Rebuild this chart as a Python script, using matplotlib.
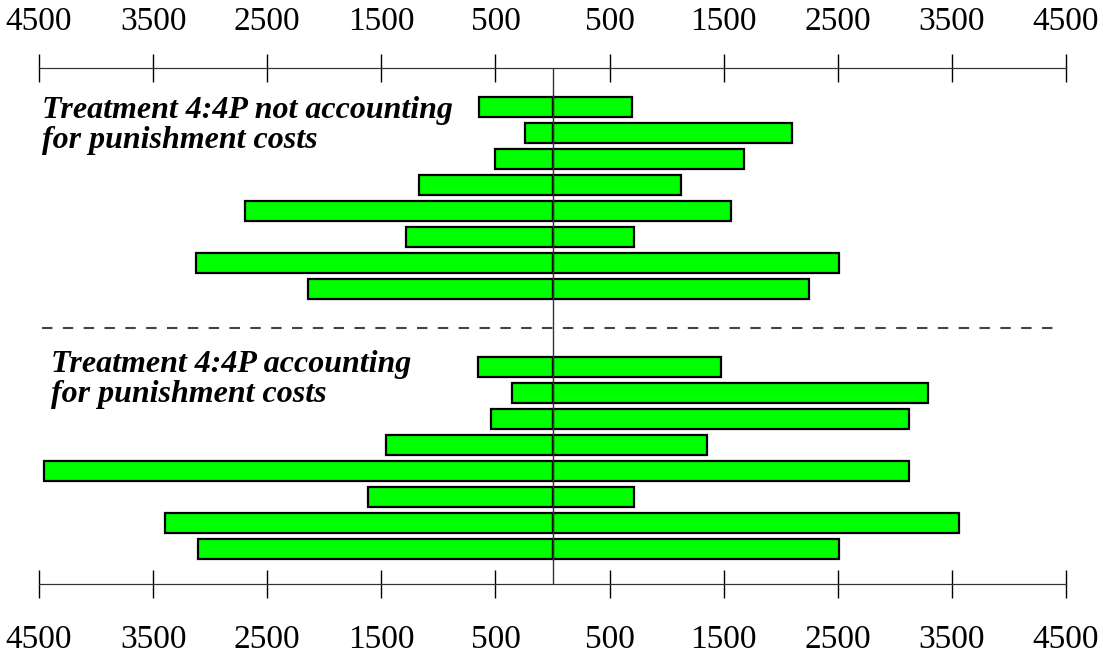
import matplotlib.pyplot as plt

# Valores (esquerda negativa, direita positiva)
top_left = [640, 245, 508, 1174, 2691, 1280, 3120, 2147]
top_right = [701, 2103, 1674, 1122, 1560, 710, 2515, 2252]
bottom_left = [649, 359, 535, 1455, 4452, 1621, 3392, 3103]
bottom_right = [1481, 3287, 3120, 1358, 3120, 710, 3558, 2515]
ticks = [-4500, -3500, -2500, -1500, -500, 500, 1500, 2500, 3500, 4500]
tick_labels = [str(abs(t)) for t in ticks]
title_top = 'Treatment 4:4P not accounting\nfor punishment costs'
title_bottom = 'Treatment 4:4P accounting\nfor punishment costs'

plt.rcParams['font.family'] = ['Liberation Serif', 'DejaVu Serif']

fig = plt.figure(figsize=(11.03, 6.57), dpi=100)
ax = fig.add_axes([39/1103, 1-584/657, (1066-39)/1103, (584-68)/657])

green = '#00ff00'
y_top = list(range(8))
y_bottom = [y + 10 for y in range(8)]
for ys, left, right in [(y_top, top_left, top_right), (y_bottom, bottom_left, bottom_right)]:
    ax.barh(ys, [-v for v in left], height=0.8, color=green, edgecolor='black', linewidth=1.6, zorder=3)
    ax.barh(ys, right, height=0.8, color=green, edgecolor='black', linewidth=1.6, zorder=3)

ax.axvline(0, color='#333333', linewidth=1, zorder=4)
ax.plot([-4478, 4461], [8.5, 8.5], color='#444444', linewidth=1.5, dashes=(5, 5))

ax.set_xlim(-4500, 4500)
ax.set_ylim(18.35, -1.5)
ax.set_yticks([])
ax.set_xticks(ticks)
ax.set_xticklabels(tick_labels)
ax.tick_params(axis='x', top=False, bottom=True, labeltop=False, labelbottom=True,
               direction='inout', length=20, width=1, pad=19, labelsize=24)

# eixo de cima com os mesmos ticks
ax2 = ax.twiny()
ax2.set_xlim(ax.get_xlim())
ax2.set_xticks(ticks)
ax2.set_xticklabels(tick_labels)
ax2.tick_params(axis='x', direction='inout', length=20, width=1, pad=12, labelsize=24)

for a in [ax, ax2]:
    for s in ['left', 'right']:
        a.spines[s].set_visible(False)
    for s in ['top', 'bottom']:
        a.spines[s].set_color('#333333')

ax.text(-4478, -0.42, title_top, fontsize=23, fontweight='bold', fontstyle='italic',
        va='top', ha='left', linespacing=1.05)
ax.text(-4391, 9.33, title_bottom, fontsize=23, fontweight='bold', fontstyle='italic',
        va='top', ha='left', linespacing=1.05)

fig.savefig('out.png', dpi=100)
